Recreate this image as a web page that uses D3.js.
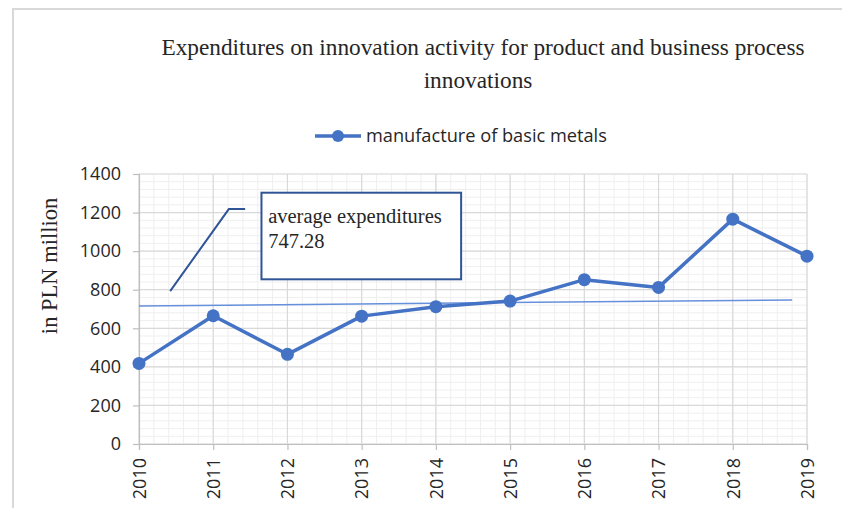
<!DOCTYPE html>
<html>
<head>
<meta charset="utf-8">
<script src="https://cdn.jsdelivr.net/npm/d3@7"></script>
<style>
  body { margin: 0; background: #fff; }
  svg { display: block; }
  .serif { font-family: "Liberation Serif", "DejaVu Serif", serif; fill: #262626; }
  .sans { font-family: "Open Sans", "Liberation Sans", sans-serif; fill: #262626; }
</style>
</head>
<body>
<svg width="842" height="508"></svg>
<script>
// data
var years = [2010, 2011, 2012, 2013, 2014, 2015, 2016, 2017, 2018, 2019];
var values = [418, 665, 465, 663, 712, 741, 852, 812, 1166, 974];
var seriesName = "manufacture of basic metals";
var yTicks = [0, 200, 400, 600, 800, 1000, 1200, 1400];
var trendYears = [2010, 2018.8];
var trendValues = [715, 747];
var calloutLines = ["average expenditures", "747.28"];

var svg = d3.select('svg');
var padding = {t: 174, r: 35, b: 64, l: 139};
var chartWidth = 842 - padding.l - padding.r;
var chartHeight = 508 - padding.t - padding.b;

var xScale = d3.scaleLinear().domain([2010, 2019]).range([0, chartWidth]);
var yScale = d3.scaleLinear().domain([0, 1400]).range([chartHeight, 0]);

// outer frame (only top and left edges visible in the crop)
svg.append('path')
  .attr('d', 'M13,508 V9 H842')
  .attr('fill', 'none')
  .attr('stroke', '#d9d9d9')
  .attr('stroke-width', 2);

// title
svg.append('text').attr('class', 'serif')
  .attr('x', 483).attr('y', 55)
  .attr('text-anchor', 'middle')
  .style('font-size', '23.3px')
  .text('Expenditures on innovation activity for product and business process');
svg.append('text').attr('class', 'serif')
  .attr('x', 478).attr('y', 88)
  .attr('text-anchor', 'middle')
  .style('font-size', '23.3px')
  .text('innovations');

// legend
var legend = svg.append('g').attr('transform', 'translate(315,136)');
legend.append('line').attr('x1', 0).attr('x2', 46).attr('y1', 0).attr('y2', 0)
  .attr('stroke', '#4472c4').attr('stroke-width', 3.5);
legend.append('circle').attr('cx', 23).attr('cy', 0).attr('r', 6).attr('fill', '#4472c4');
legend.append('text').attr('class', 'sans')
  .attr('x', 51).attr('y', 6)
  .style('font-size', '18.2px')
  .text(seriesName);

var chart = svg.append('g')
  .attr('transform', 'translate(' + [padding.l, padding.t] + ')');

// minor grid
var minorX = d3.range(2010, 2019.001, 0.2);
var minorY = d3.range(0, 1400.001, 40);
chart.append('g').selectAll('line').data(minorX).enter().append('line')
  .attr('x1', d => xScale(d)).attr('x2', d => xScale(d))
  .attr('y1', 0).attr('y2', chartHeight)
  .attr('stroke', '#efefef').attr('stroke-width', 1);
chart.append('g').selectAll('line').data(minorY).enter().append('line')
  .attr('x1', 0).attr('x2', chartWidth)
  .attr('y1', d => yScale(d)).attr('y2', d => yScale(d))
  .attr('stroke', '#efefef').attr('stroke-width', 1);

// major grid
chart.append('g').selectAll('line').data(years).enter().append('line')
  .attr('x1', d => xScale(d)).attr('x2', d => xScale(d))
  .attr('y1', 0).attr('y2', chartHeight)
  .attr('stroke', '#d9d9d9').attr('stroke-width', 1.2);
chart.append('g').selectAll('line').data(yTicks).enter().append('line')
  .attr('x1', 0).attr('x2', chartWidth)
  .attr('y1', d => yScale(d)).attr('y2', d => yScale(d))
  .attr('stroke', '#d9d9d9').attr('stroke-width', 1.2);

// axes
var yAxis = chart.append('g')
  .call(d3.axisLeft(yScale).tickValues(yTicks).tickSize(6).tickPadding(12).tickFormat(d3.format('d')));
var xAxis = chart.append('g')
  .attr('transform', 'translate(0,' + chartHeight + ')')
  .call(d3.axisBottom(xScale).tickValues(years).tickSize(6).tickFormat(d3.format('d')));
[xAxis, yAxis].forEach(function(a) {
  a.select('.domain').attr('stroke', '#bfbfbf').attr('stroke-width', 1.2);
  a.selectAll('.tick line').attr('stroke', '#bfbfbf').attr('stroke-width', 1.2);
  a.selectAll('text').attr('class', 'sans').style('font-size', '18px').attr('fill', '#262626');
});
xAxis.selectAll('.tick text')
  .attr('transform', 'rotate(-90)')
  .attr('text-anchor', 'end')
  .attr('x', -14).attr('y', 0).attr('dy', '0.35em');

// y axis title
svg.append('text').attr('class', 'serif')
  .attr('transform', 'translate(57,266)rotate(-90)')
  .attr('text-anchor', 'middle')
  .style('font-size', '22.5px')
  .text('in PLN million');

// average / trend line
chart.append('path')
  .datum(d3.zip(trendYears, trendValues))
  .attr('fill', 'none')
  .attr('stroke', '#6690dc')
  .attr('stroke-width', 1.5)
  .attr('d', d3.line().x(d => xScale(d[0])).y(d => yScale(d[1])));

// series line + markers
var pts = d3.zip(years, values);
chart.append('path')
  .datum(pts)
  .attr('fill', 'none')
  .attr('stroke', '#4472c4')
  .attr('stroke-width', 3.5)
  .attr('stroke-linejoin', 'round')
  .attr('d', d3.line().x(d => xScale(d[0])).y(d => yScale(d[1])));
chart.selectAll('.dot').data(pts).enter().append('circle')
  .attr('class', 'dot')
  .attr('cx', d => xScale(d[0])).attr('cy', d => yScale(d[1]))
  .attr('r', 6.5)
  .attr('fill', '#4472c4');

// callout
var calloutLeader = [[2010.42, 793], [2011.21, 1218], [2011.43, 1218]];
chart.append('path')
  .datum(calloutLeader)
  .attr('fill', 'none')
  .attr('stroke', '#2f5597')
  .attr('stroke-width', 2)
  .attr('d', d3.line().x(d => xScale(d[0])).y(d => yScale(d[1])));
var boxX0 = xScale(2011.65), boxX1 = xScale(2014.34);
var boxY0 = yScale(1303), boxY1 = yScale(854);
chart.append('rect')
  .attr('x', boxX0).attr('y', boxY0)
  .attr('width', boxX1 - boxX0).attr('height', boxY1 - boxY0)
  .attr('fill', '#fff')
  .attr('stroke', '#2f5597')
  .attr('stroke-width', 2);
chart.selectAll('.callout').data(calloutLines).enter().append('text')
  .attr('class', 'serif callout')
  .attr('x', xScale(2011.74))
  .attr('y', (d, i) => yScale(1146) + i * 25)
  .style('font-size', '20.5px')
  .text(d => d);
</script>
</body>
</html>
